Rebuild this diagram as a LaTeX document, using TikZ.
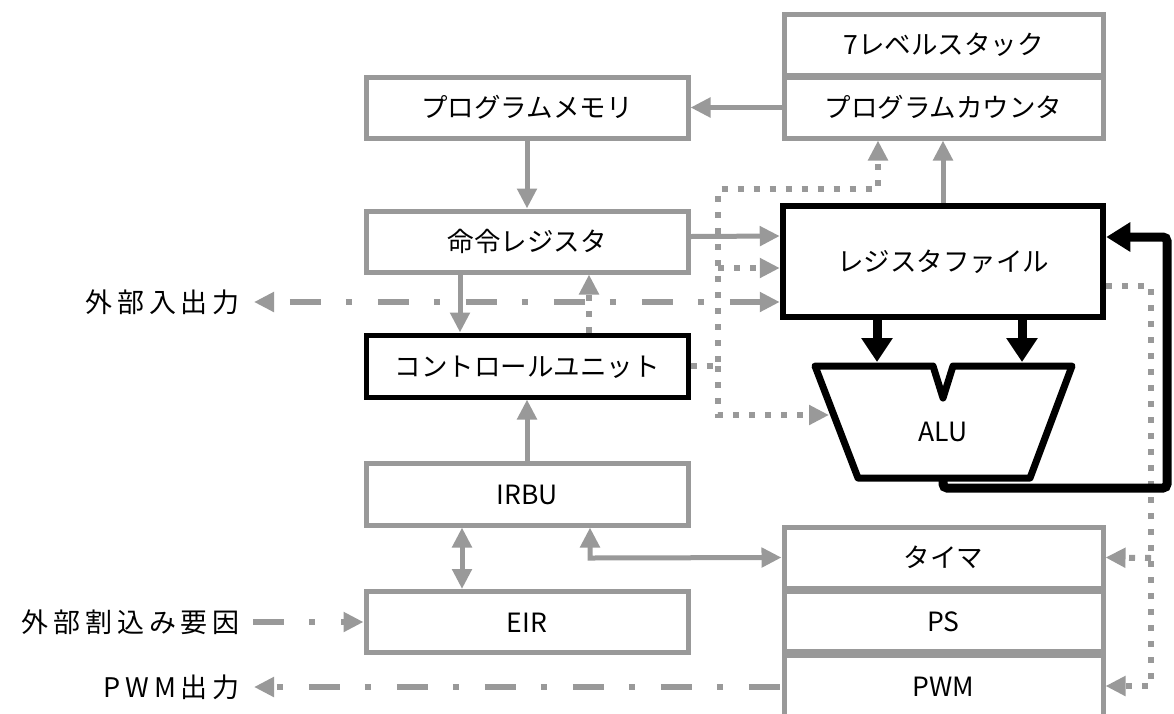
\documentclass[tikz,border=0pt]{standalone}
\usepackage{fontspec}
\setmainfont{Noto Sans CJK JP}
\usetikzlibrary{arrows.meta,calc}
\definecolor{lg}{HTML}{999999}
\begin{document}
\begin{tikzpicture}[x=1pt,y=-1pt,
  txt/.style={font=\fontsize{26.5}{30}\selectfont, text height=23pt, text depth=3pt, inner sep=0pt},
  lbl/.style={font=\fontsize{27}{30}\selectfont\addfontfeature{LetterSpace=18}, text height=23pt, text depth=3pt, inner sep=0pt, anchor=east},
  box/.style={txt, draw=lg, line width=5pt, fill=white},
  bbox/.style={txt, draw=black, line width=5pt, fill=white},
  gtip/.style={-{Triangle[length=20pt,width=19pt]}},
  gline/.style={draw=lg, line width=5pt},
  dotl/.style={draw=lg, line width=6pt, dash pattern=on 6pt off 10pt},
  ddash/.style={draw=lg, line width=6pt, dash pattern=on 31pt off 25pt on 6pt off 26pt},
  kline/.style={draw=black, line width=9pt}
]
\useasboundingbox[fill=white] (0,0) rectangle (1174,713);

% boxes - left column
\node[box, minimum width=322pt, minimum height=61pt] (pm) at (527,107.5) {プログラムメモリ};
\node[box, minimum width=322pt, minimum height=61pt] (ir) at (527,241.5) {命令レジスタ};
\node[bbox, minimum width=322pt, minimum height=62pt] (cu) at (527,366) {コントロールユニット};
\node[box, minimum width=322pt, minimum height=62pt] (irbu) at (527,494) {IRBU};
\node[box, minimum width=322pt, minimum height=61pt] (eir) at (527,622) {EIR};

% boxes - right column
\node[box, minimum width=319pt, minimum height=61pt] (stack) at (943.5,44.5) {7レベルスタック};
\node[box, minimum width=319pt, minimum height=61pt] (pc) at (943.5,107.5) {プログラムカウンタ};
\node[txt, draw=black, line width=6.5pt, fill=white, minimum width=320pt, minimum height=111pt] (rf) at (943,261.5) {レジスタファイル};
\node[box, minimum width=319pt, minimum height=61pt] (tim) at (943.5,557.5) {タイマ};
\node[box, minimum width=319pt, minimum height=60pt] (ps) at (943.5,621) {PS};
\node[box, minimum width=319pt, minimum height=62pt] (pwm) at (943.5,686) {PWM};

% ALU
\draw[black, line width=7pt, line join=round, fill=white]
  (815,366) -- (933,366) -- (943,398) -- (953,366) -- (1072,366) -- (1030,478) -- (858,478) -- cycle;
\node[txt] (alu) at (943,431) {ALU};
\coordinate (aluin1) at (877,362);
\coordinate (aluin2) at (1022,362);
\coordinate (aluout) at (943,478);
\coordinate (aluleft) at (829,415);

% outside labels
\node[lbl] (extio) at (240,302) {外部入出力};
\node[lbl] (eint) at (240,622) {外部割込み要因};
\node[lbl] (pwmout) at (240,687) {PWM出力};

% junction coordinates for the dotted control bus
\coordinate (j0) at (718,366);
\coordinate (j1) at (718,189);
\coordinate (j2) at (878,189);
\coordinate (j3) at (718,415);
\coordinate (j4) at (718,268);
\coordinate (r0) at (1151,286);
\coordinate (r1) at (1151,558);
\coordinate (r2) at (1151,686);

% solid gray connectors
\draw[gline, gtip] (pc.west) -- (pm.east);
\draw[gline, gtip] (pm.south) -- (ir.north);
\draw[gline, gtip] ([xshift=-67pt]ir.south) -- ([xshift=-67pt]cu.north);
\draw[gline, gtip] (irbu.north) -- (cu.south);
\draw[gline, {Triangle[length=20pt,width=19pt]}-{Triangle[length=20pt,width=19pt]}] ([xshift=-65pt]irbu.south) -- ([xshift=-65pt]eir.north);
\draw[gline, {Triangle[length=20pt,width=19pt]}-{Triangle[length=20pt,width=19pt]}] ([xshift=63pt]irbu.south) -- (590,558) -- (tim.west);
\draw[gline, gtip] ([yshift=5pt]ir.east) -- ([yshift=25.5pt]rf.west);
\draw[gline, gtip] (rf.north) -- ([xshift=-0.5pt]pc.south);

% dotted control lines
\draw[dotl, gtip] (cu.east) -- (j0) -- (j1) -- (j2) -- ([xshift=-65.5pt]pc.south);
\draw[dotl, gtip] (j0) -- (j3) -- (aluleft);
\draw[dotl, gtip] (j4) -- ([yshift=-6.5pt]rf.west);
\draw[dotl, gtip] ([xshift=62pt]cu.north) -- ([xshift=62pt]ir.south);
\draw[dotl, gtip] ([yshift=-24.5pt]rf.east) -- (r0) -- (r2) -- (pwm.east);
\draw[dotl, gtip] (r1) -- (tim.east);

% dash-dot external lines
\draw[ddash, dash phase=71pt, {Triangle[length=20pt,width=19pt]}-{Triangle[length=20pt,width=19pt]}] ([xshift=14pt]extio.east) -- ([yshift=-40.5pt]rf.west);
\draw[ddash, gtip] ([xshift=13pt]eint.east) -- (eir.west);
\draw[ddash, dash phase=52pt, {Triangle[length=20pt,width=19pt]}-] ([xshift=14pt]pwmout.east) -- (pwm.west |- pwmout.east);

% black data paths
\draw[kline, -{Triangle[length=24pt,width=30pt]}] ([xshift=-66pt]rf.south) -- (aluin1);
\draw[kline, -{Triangle[length=24pt,width=30pt]}] ([xshift=79pt]rf.south) -- (aluin2);
\draw[kline, rounded corners=4pt, -{Triangle[length=24pt,width=28pt]}] (aluout) -- (943,488) -- (1167,488) -- (1167,237) -- ([yshift=24.5pt]rf.east);
\end{tikzpicture}
\end{document}
